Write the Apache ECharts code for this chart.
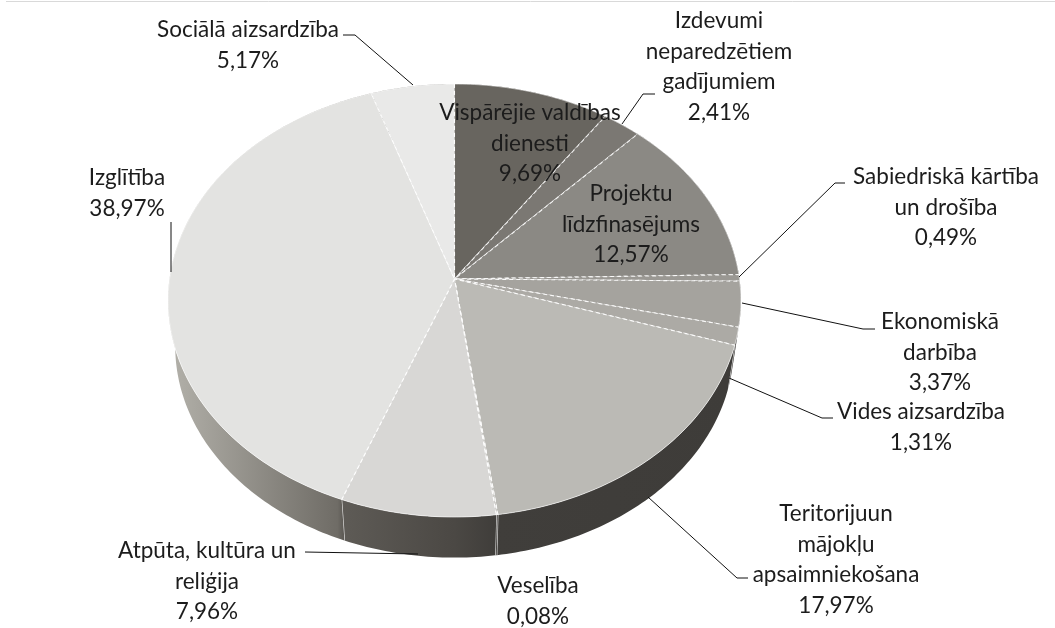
<html>
<head>
<meta charset="utf-8">
<script src="https://cdn.jsdelivr.net/npm/echarts@6/dist/echarts.min.js"></script>
<style>
    body { margin: 0; padding: 0; background: #fff; }
    #content { width: 1055px; height: 628px; }
</style>
</head>
<body>
<div id="content"></div>
<script type="text/javascript">
    // values, clockwise from 12 o'clock
    var categories = [
        'Vispārējie valdības\ndienesti',
        'Izdevumi\nneparedzētiem\ngadījumiem',
        'Projektu\nlīdzfinasējums',
        'Sabiedriskā kārtība\nun drošība',
        'Ekonomiskā\ndarbība',
        'Vides aizsardzība',
        'Teritorijuun\nmājokļu\napsaimniekošana',
        'Veselība',
        'Atpūta, kultūra un\nreliģija',
        'Izglītība',
        'Sociālā aizsardzība'
    ];
    var shares = [9.69, 2.41, 12.57, 0.49, 3.37, 1.31, 17.97, 0.08, 7.96, 38.97, 5.17];
    var sliceColors = ['#68655f', '#7b7873', '#8b8984', '#9a9893', '#a5a39e', '#acaaa5', '#bbbab5', '#c9c8c4', '#d8d7d5', '#e3e3e1', '#e9e9e8'];

    // label anchor (centre x, first line y) and leader line, same order as categories
    var labelAt = [
        [530, 113], [719, 21], [631, 194], [946, 177], [940, 322], [921, 412],
        [836, 514], [538, 586], [207, 551], [127, 178], [248, 30]
    ];
    var leaders = [
        null,
        [[655, 94], [643, 94], [622, 124]],
        null,
        [[845, 183], [835, 183], [739, 277]],
        [[875, 329], [863, 329], [742, 303]],
        [[833, 418], [822, 418], [729, 378]],
        [[748, 578], [737, 578], [648, 497]],
        null,
        [[305, 552], [418, 554]],
        [[171, 222], [171, 272]],
        [[343, 35], [355, 35], [413, 85]]
    ];

    // tilted disc: apex of the top face, radii and perspective strength
    var cx = 454.5, cyTop = 279, cyBottom = 325.5;
    var rx = 285, ry = 214.4, persp = 0.0993, bottomScale = 0.975;

    function rimPoint(percent, cy, scale) {
        var a = percent / 100 * Math.PI * 2;
        var u = Math.sin(a), v = -Math.cos(a);
        var s = scale / (1 - persp * v);
        return [cx + rx * u * s, cy + ry * v * s];
    }

    function arcPoints(from, to, cy, scale) {
        var pts = [];
        var steps = Math.max(2, Math.ceil((to - from) * 4));
        for (var i = 0; i <= steps; i++) {
            pts.push(rimPoint(from + (to - from) * i / steps, cy, scale));
        }
        return pts;
    }

    var rows = [];
    var sum = 0;
    for (var c = 0; c < shares.length; c++) {
        rows.push([sum, sum + shares[c], c]);
        sum += shares[c];
    }

    var wallFill = {
        type: 'linear', x: 176, y: 0, x2: 733, y2: 0, global: true,
        colorStops: [
            { offset: 0, color: '#b0aea7' },
            { offset: 0.29, color: '#6f6c66' },
            { offset: 0.3, color: '#5e5b56' },
            { offset: 0.5, color: '#4b4844' },
            { offset: 0.57, color: '#403e3b' },
            { offset: 1, color: '#3e3c39' }
        ]
    };

    function renderWall(params, api) {
        var from = api.value(0), to = api.value(1);
        var top = arcPoints(from, to, cyTop, 1);
        var bottom = arcPoints(from, to, cyBottom, bottomScale).reverse();
        return {
            type: 'group',
            children: [{
                type: 'polygon',
                shape: { points: top.concat(bottom) },
                style: { fill: wallFill }
            }, {
                type: 'line',
                shape: {
                    x1: top[top.length - 1][0], y1: top[top.length - 1][1],
                    x2: bottom[0][0], y2: bottom[0][1]
                },
                style: { stroke: '#ffffff', lineWidth: 1.2, opacity: 0.8 }
            }]
        };
    }

    function renderFace(params, api) {
        var from = api.value(0), to = api.value(1);
        var rim = arcPoints(from, to, cyTop, 1);
        return {
            type: 'group',
            children: [{
                type: 'polygon',
                shape: { points: [[cx, cyTop]].concat(rim) },
                style: { fill: sliceColors[api.value(2)] }
            }, {
                type: 'polyline',
                shape: { points: rim },
                style: { fill: 'none', stroke: '#ffffff', lineWidth: 1, opacity: 0.6 }
            }, {
                type: 'polyline',
                shape: { points: [rim[rim.length - 1], [cx, cyTop], rim[0]] },
                style: { fill: 'none', stroke: '#ffffff', lineWidth: 1.1, lineDash: [4, 3], opacity: 0.9 }
            }]
        };
    }

    function renderLabel(params, api) {
        var i = api.value(2);
        var lines = categories[i].split('\n');
        lines.push(shares[i].toFixed(2).replace('.', ',') + '%');
        var kids = [];
        for (var k = 0; k < lines.length; k++) {
            kids.push({
                type: 'text',
                style: {
                    x: labelAt[i][0],
                    y: labelAt[i][1] + k * 30.5,
                    text: lines[k],
                    align: 'center',
                    verticalAlign: 'middle',
                    fill: '#1c1c1c',
                    font: '22.5px Lato'
                }
            });
        }
        if (leaders[i]) {
            kids.push({
                type: 'polyline',
                shape: { points: leaders[i] },
                style: { fill: 'none', stroke: '#111111', lineWidth: 1 }
            });
        }
        return { type: 'group', children: kids };
    }

    var chart = echarts.init(document.getElementById('content'));
    const option = {
        animation: false,
        graphic: [{
            type: 'line',
            silent: true,
            shape: { x1: 6, y1: 1.5, x2: 1055, y2: 1.5 },
            style: { stroke: '#d9d9d9', lineWidth: 1 }
        }],
        series: [
            { type: 'custom', coordinateSystem: 'none', silent: true, z: 1, data: rows, renderItem: renderWall },
            { type: 'custom', coordinateSystem: 'none', silent: true, z: 2, data: rows, renderItem: renderFace },
            { type: 'custom', coordinateSystem: 'none', silent: true, z: 3, data: rows, renderItem: renderLabel }
        ]
    };
    chart.setOption(option);
</script>
</body>
</html>
